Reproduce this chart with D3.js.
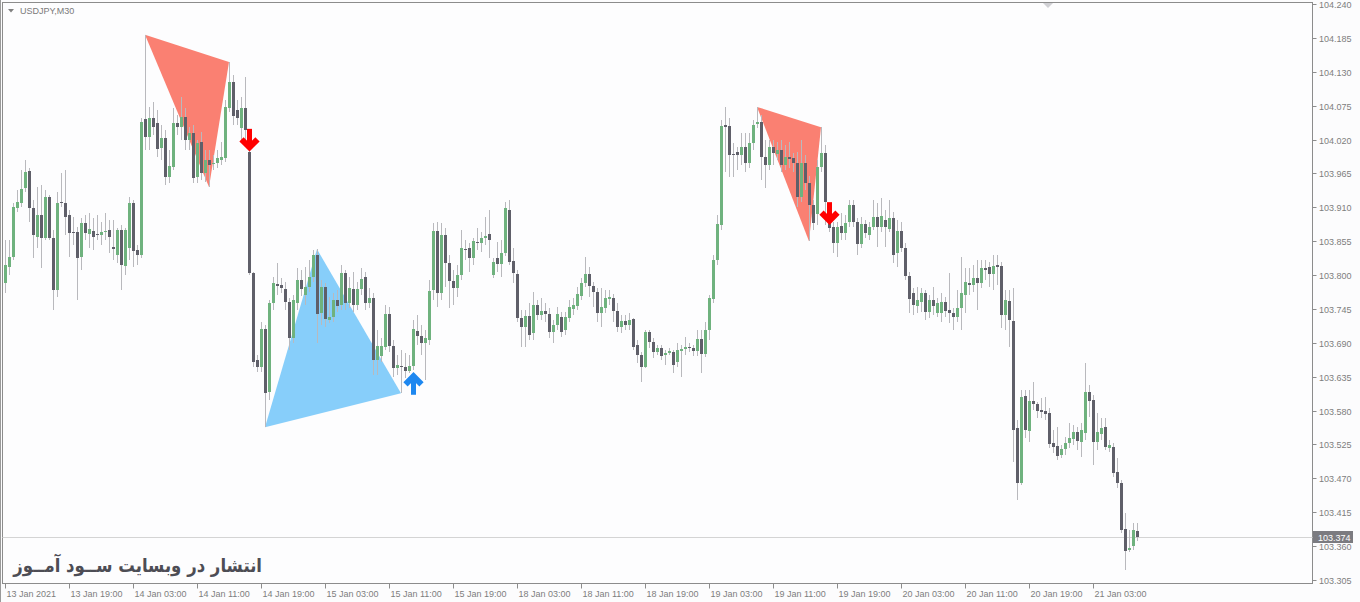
<!DOCTYPE html>
<html>
<head>
<meta charset="utf-8">
<script src="https://cdn.jsdelivr.net/npm/d3@7"></script>
<style>
  body { margin: 0; background: #fcfcfd; }
  svg text { font-family: "Liberation Sans", Arial, sans-serif; }
</style>
</head>
<body>
<div id="chart"></div>
<script>
// USDJPY M30 candles (one value per bar)
let opens = [
  103.787,103.813,103.829,103.909,103.917,103.941,103.969,103.909,103.862,103.898,
  103.860,103.927,103.860,103.776,103.919,103.917,103.898,103.870,103.870,103.828,
  103.884,103.867,103.871,103.867,103.865,103.870,103.873,103.846,103.833,103.873,
  103.815,103.844,103.917,103.841,103.833,104.053,104.024,104.055,104.047,104.006,
  104.023,103.959,103.975,104.047,104.040,104.057,104.019,104.031,103.958,104.016,
  103.966,103.987,103.980,103.982,103.987,103.990,104.071,104.113,104.068,104.039,
  104.071,104.000,103.803,103.662,103.651,103.712,103.610,103.755,103.785,103.784,
  103.777,103.756,103.698,103.755,103.792,103.768,103.781,103.797,103.833,103.738,
  103.781,103.727,103.732,103.760,103.751,103.803,103.755,103.777,103.751,103.777,
  103.797,103.755,103.763,103.662,103.669,103.683,103.737,103.685,103.649,103.652,
  103.651,103.644,103.652,103.709,103.701,103.690,103.695,103.776,103.871,103.771,
  103.865,103.820,103.790,103.779,103.800,103.842,103.844,103.828,103.854,103.852,
  103.860,103.867,103.800,103.828,103.818,103.836,103.906,103.823,103.802,103.730,
  103.716,103.734,103.706,103.751,103.735,103.742,103.737,103.708,103.719,103.732,
  103.711,103.730,103.745,103.750,103.766,103.787,103.802,103.782,103.772,103.738,
  103.746,103.761,103.763,103.742,103.716,103.725,103.719,103.729,103.687,103.670,
  103.651,103.708,103.691,103.675,103.682,103.669,103.673,103.675,103.659,103.677,
  103.680,103.683,103.682,103.677,103.696,103.672,103.711,103.761,103.824,103.881,
  104.044,104.042,103.997,104.000,103.995,104.008,103.982,104.014,104.045,104.049,
  103.992,103.979,104.008,103.997,104.003,103.979,103.992,103.990,103.982,103.927,
  103.982,103.949,103.914,103.898,103.975,103.998,103.889,103.878,103.852,103.880,
  103.868,103.886,103.914,103.886,103.850,103.883,103.865,103.878,103.894,103.878,
  103.889,103.875,103.893,103.836,103.871,103.844,103.798,103.771,103.751,103.756,
  103.771,103.740,103.760,103.738,103.738,103.756,103.743,103.738,103.732,103.746,
  103.768,103.787,103.784,103.795,103.787,103.811,103.813,103.802,103.816,103.815,
  103.735,103.758,103.725,103.552,103.462,103.604,103.547,103.596,103.591,103.581,
  103.579,103.576,103.527,103.522,103.508,103.518,103.527,103.534,103.545,103.529,
  103.543,103.610,103.597,103.529,103.543,103.553,103.519,103.521,103.480,103.462,
  103.388,103.354,103.360,103.384
];
let highs = [
  103.857,103.857,103.917,103.938,103.970,103.987,103.974,103.922,103.943,103.946,
  103.938,103.930,103.873,103.935,103.966,103.970,103.906,103.894,103.878,103.893,
  103.898,103.901,103.893,103.898,103.886,103.901,103.889,103.889,103.876,103.881,
  103.876,103.927,103.922,103.849,104.055,104.190,104.073,104.081,104.068,104.044,
  104.035,104.003,104.071,104.060,104.089,104.071,104.040,104.044,104.019,104.032,
  104.003,104.003,103.995,104.003,104.016,104.084,104.146,104.125,104.084,104.089,
  104.121,104.003,103.805,103.670,103.724,103.719,103.760,103.797,103.820,103.795,
  103.789,103.763,103.768,103.811,103.808,103.813,103.824,103.841,103.842,103.792,
  103.787,103.764,103.771,103.776,103.816,103.808,103.797,103.805,103.789,103.811,
  103.805,103.779,103.771,103.711,103.698,103.751,103.748,103.695,103.670,103.678,
  103.673,103.670,103.727,103.735,103.719,103.711,103.792,103.884,103.886,103.884,
  103.876,103.833,103.808,103.816,103.873,103.857,103.852,103.860,103.876,103.870,
  103.894,103.906,103.828,103.854,103.857,103.919,103.922,103.844,103.808,103.743,
  103.743,103.755,103.772,103.760,103.763,103.755,103.746,103.727,103.748,103.740,
  103.740,103.760,103.763,103.781,103.795,103.829,103.813,103.789,103.779,103.779,
  103.776,103.776,103.769,103.755,103.735,103.735,103.738,103.730,103.695,103.675,
  103.711,103.711,103.698,103.687,103.687,103.678,103.682,103.678,103.690,103.687,
  103.699,103.690,103.687,103.711,103.711,103.724,103.768,103.833,103.898,104.052,
  104.073,104.055,104.014,104.008,104.031,104.031,104.031,104.052,104.073,104.060,
  104.019,104.019,104.019,104.016,104.019,104.011,104.016,103.998,104.000,104.019,
  103.995,103.961,103.922,103.987,104.040,104.011,103.898,103.886,103.886,103.901,
  103.898,103.922,103.922,103.893,103.894,103.889,103.886,103.922,103.917,103.925,
  103.906,103.922,103.902,103.889,103.886,103.852,103.805,103.779,103.781,103.779,
  103.776,103.768,103.781,103.763,103.771,103.764,103.803,103.746,103.776,103.829,
  103.811,103.811,103.816,103.824,103.824,103.824,103.821,103.833,103.833,103.821,
  103.776,103.776,103.779,103.565,103.613,103.613,103.613,103.626,103.594,103.600,
  103.602,103.584,103.548,103.553,103.524,103.537,103.560,103.557,103.553,103.560,
  103.657,103.621,103.605,103.576,103.568,103.568,103.532,103.527,103.503,103.467,
  103.414,103.386,103.397,103.397
];
let lows = [
  103.771,103.800,103.824,103.902,103.910,103.935,103.886,103.828,103.844,103.811,
  103.857,103.857,103.743,103.764,103.910,103.865,103.829,103.849,103.760,103.808,
  103.857,103.844,103.841,103.857,103.849,103.857,103.836,103.824,103.820,103.776,
  103.800,103.824,103.813,103.816,103.828,104.003,104.003,104.027,103.992,103.987,
  103.946,103.949,103.970,104.027,104.019,104.003,104.003,103.949,103.949,103.954,
  103.951,103.943,103.970,103.974,103.979,103.984,104.065,104.044,104.044,104.019,
  104.019,103.800,103.651,103.643,103.643,103.553,103.597,103.743,103.768,103.771,
  103.743,103.678,103.690,103.743,103.766,103.751,103.772,103.789,103.690,103.719,
  103.716,103.722,103.724,103.740,103.743,103.743,103.746,103.740,103.743,103.768,
  103.743,103.746,103.638,103.638,103.659,103.678,103.675,103.635,103.638,103.608,
  103.633,103.641,103.646,103.687,103.670,103.630,103.687,103.760,103.748,103.760,
  103.781,103.746,103.751,103.764,103.792,103.824,103.805,103.816,103.841,103.838,
  103.849,103.828,103.795,103.805,103.797,103.831,103.816,103.787,103.724,103.683,
  103.683,103.695,103.695,103.727,103.727,103.724,103.698,103.690,103.711,103.699,
  103.703,103.724,103.735,103.743,103.760,103.781,103.764,103.748,103.724,103.716,
  103.738,103.751,103.724,103.708,103.706,103.711,103.711,103.678,103.657,103.626,
  103.649,103.682,103.665,103.670,103.662,103.654,103.670,103.641,103.651,103.635,
  103.670,103.675,103.669,103.669,103.641,103.667,103.695,103.755,103.816,103.873,
  103.967,103.959,103.959,103.970,103.979,103.967,103.974,104.003,104.039,103.954,
  103.941,103.970,103.979,103.987,103.967,103.970,103.974,103.967,103.910,103.919,
  103.938,103.855,103.873,103.881,103.967,103.881,103.870,103.836,103.829,103.857,
  103.857,103.878,103.878,103.833,103.844,103.860,103.857,103.873,103.846,103.870,
  103.846,103.870,103.820,103.813,103.838,103.792,103.738,103.735,103.738,103.740,
  103.727,103.730,103.735,103.732,103.724,103.732,103.722,103.711,103.724,103.711,
  103.738,103.768,103.772,103.743,103.779,103.792,103.781,103.776,103.784,103.714,
  103.711,103.683,103.497,103.435,103.459,103.536,103.529,103.581,103.568,103.568,
  103.565,103.519,103.511,103.500,103.503,103.508,103.519,103.524,103.516,103.505,
  103.532,103.569,103.492,103.516,103.532,103.516,103.513,103.472,103.454,103.381,
  103.321,103.351,103.354,103.368
];
let closes = [
  103.816,103.829,103.910,103.919,103.940,103.967,103.909,103.865,103.898,103.860,
  103.927,103.860,103.776,103.917,103.917,103.894,103.868,103.868,103.828,103.884,
  103.867,103.875,103.862,103.865,103.870,103.871,103.862,103.842,103.873,103.816,
  103.873,103.917,103.839,103.833,104.049,104.024,104.055,104.040,104.005,104.023,
  103.959,103.977,104.047,104.040,104.057,104.019,104.031,103.958,104.014,103.966,
  103.987,103.979,103.982,103.990,103.992,104.073,104.113,104.057,104.055,104.071,
  104.035,103.803,103.659,103.651,103.712,103.608,103.755,103.787,103.781,103.779,
  103.756,103.698,103.760,103.792,103.777,103.781,103.797,103.833,103.738,103.781,
  103.729,103.732,103.760,103.751,103.803,103.755,103.779,103.751,103.777,103.794,
  103.755,103.763,103.662,103.685,103.685,103.737,103.685,103.649,103.654,103.651,
  103.644,103.652,103.712,103.701,103.690,103.698,103.774,103.871,103.771,103.865,
  103.820,103.790,103.779,103.800,103.844,103.841,103.828,103.855,103.852,103.860,
  103.863,103.858,103.821,103.818,103.836,103.909,103.821,103.803,103.730,103.716,
  103.734,103.703,103.751,103.735,103.742,103.737,103.708,103.719,103.737,103.708,
  103.732,103.748,103.751,103.769,103.787,103.802,103.782,103.772,103.738,103.748,
  103.763,103.764,103.742,103.716,103.725,103.719,103.727,103.683,103.670,103.651,
  103.708,103.691,103.675,103.682,103.669,103.673,103.677,103.654,103.678,103.680,
  103.683,103.682,103.677,103.696,103.672,103.711,103.763,103.824,103.883,104.042,
  104.040,103.995,103.995,103.995,104.008,103.982,104.014,104.044,104.049,103.992,
  103.979,104.008,103.998,104.003,103.979,103.992,103.988,103.982,103.927,103.982,
  103.949,103.914,103.884,103.975,103.998,103.919,103.876,103.852,103.878,103.868,
  103.884,103.914,103.886,103.850,103.883,103.868,103.878,103.894,103.878,103.896,
  103.878,103.893,103.833,103.871,103.844,103.798,103.760,103.751,103.760,103.771,
  103.740,103.760,103.750,103.755,103.756,103.742,103.738,103.732,103.746,103.771,
  103.789,103.784,103.795,103.787,103.811,103.808,103.802,103.815,103.813,103.735,
  103.760,103.727,103.548,103.462,103.602,103.548,103.596,103.591,103.579,103.578,
  103.574,103.526,103.521,103.506,103.518,103.527,103.535,103.545,103.530,103.548,
  103.610,103.596,103.529,103.545,103.552,103.521,103.524,103.479,103.462,103.386,
  103.352,103.357,103.386,103.374
];

// price axis labels (right side)
let yTicks = [104.240, 104.185, 104.130, 104.075, 104.020, 103.965, 103.910, 103.855, 103.800,
  103.745, 103.690, 103.635, 103.580, 103.525, 103.470, 103.415, 103.360, 103.305];

// time axis: bar index of each label and its text
let xTickBars = [0, 16, 32, 48, 64, 80, 96, 112, 128, 144, 160, 176, 192, 208, 224, 240, 256, 272];
let xTickLabels = ["13 Jan 2021", "13 Jan 19:00", "14 Jan 03:00", "14 Jan 11:00", "14 Jan 19:00",
  "15 Jan 03:00", "15 Jan 11:00", "15 Jan 19:00", "18 Jan 03:00", "18 Jan 11:00", "18 Jan 19:00",
  "19 Jan 03:00", "19 Jan 11:00", "19 Jan 19:00", "20 Jan 03:00", "20 Jan 11:00", "20 Jan 19:00",
  "21 Jan 03:00"];

// harmonic triangles: bar index + price of each corner
let patternBars = [[35, 56, 51], [65, 78, 99], [188, 204, 201]];
let patternPrices = [[104.190, 104.146, 103.943], [103.553, 103.842, 103.608], [104.073, 104.040, 103.855]];
let patternColors = ["#fa8072", "#87cefa", "#fa8072"];

// signal arrows: bar index, price at the arrow tip, direction
let signalBars = [61, 102, 206];
let signalPrices = [104.000, 103.643, 103.881];
let signalDirs = ["down", "up", "down"];

let lastPrice = 103.374;

const width = 1360, height = 602;
let frame = {left: 2.5, top: 2.5, right: 1312.5, bottom: 583.5};

let svg = d3.select("#chart")
  .append("svg")
  .attr("width", width)
  .attr("height", height);

svg.append("rect").attr("width", width).attr("height", height).attr("fill", "#fcfcfd");

let x = d3.scaleLinear().domain([0, 283]).range([5, 1137]);
let y = d3.scaleLinear().domain([103.305, 104.240]).range([580, 4]);

let bars = opens.map(function(o, i) {
  return {i: i, o: o, h: highs[i], l: lows[i], c: closes[i]};
});

// outer window edge + chart frame
svg.append("line").attr("x1", 0.5).attr("x2", 0.5).attr("y1", 0).attr("y2", height)
  .attr("stroke", "#9a9a9a");
svg.append("rect")
  .attr("x", frame.left).attr("y", frame.top)
  .attr("width", frame.right - frame.left).attr("height", frame.bottom - frame.top)
  .attr("fill", "#fdfdfe").attr("stroke", "#8c8c8c");

// triangles sit behind the candles
let tri = svg.append("g");
patternBars.forEach(function(b, k) {
  let pts = b.map(function(bi, j) { return [x(bi), y(patternPrices[k][j])]; });
  tri.append("polygon")
    .attr("points", pts.map(function(p) { return p.join(","); }).join(" "))
    .attr("fill", patternColors[k]);
});

// current price line
svg.append("line")
  .attr("x1", frame.left).attr("x2", frame.right)
  .attr("y1", Math.round(y(lastPrice)) + 0.5).attr("y2", Math.round(y(lastPrice)) + 0.5)
  .attr("stroke", "#d4d4d4");

// candles
let candles = svg.append("g").attr("shape-rendering", "crispEdges");
candles.selectAll("line").data(bars).enter()
  .append("line")
  .attr("x1", function(d) { return x(d.i) + 0.5; })
  .attr("x2", function(d) { return x(d.i) + 0.5; })
  .attr("y1", function(d) { return Math.round(y(d.h)); })
  .attr("y2", function(d) { return Math.round(y(d.l)); })
  .attr("stroke", "#b9b9bd");

candles.selectAll("rect").data(bars).enter()
  .append("rect")
  .attr("x", function(d) { return x(d.i) - 1; })
  .attr("y", function(d) { return Math.round(y(Math.max(d.o, d.c))); })
  .attr("width", 3)
  .attr("height", function(d) { return Math.max(1, Math.round(Math.abs(y(d.o) - y(d.c)))); })
  .attr("fill", function(d) { return d.c >= d.o ? "#6fb27e" : "#5f5f69"; });

// arrows (thick shaft + chevron head)
let arrows = svg.append("g");
signalBars.forEach(function(b, k) {
  let s = signalDirs[k] === "down" ? 1 : -1;
  let g = arrows.append("g")
    .attr("transform", `translate(${x(b) + 0.5}, ${y(signalPrices[k])}) scale(1, ${s})`);
  let col = signalDirs[k] === "down" ? "#ff0000" : "#1e88f0";
  g.append("line").attr("x1", 0).attr("x2", 0).attr("y1", -23).attr("y2", -5)
    .attr("stroke", col).attr("stroke-width", 5);
  g.append("polyline").attr("points", "-8,-12.5 0,-4.5 8,-12.5")
    .attr("fill", "none").attr("stroke", col).attr("stroke-width", 6)
    .attr("stroke-linejoin", "miter");
});

// right price axis
let yAxis = svg.append("g");
yTicks.forEach(function(t) {
  let yy = Math.round(y(t)) + 0.5;
  yAxis.append("line").attr("x1", frame.right).attr("x2", frame.right + 4)
    .attr("y1", yy).attr("y2", yy).attr("stroke", "#8c8c8c");
  yAxis.append("text")
    .attr("x", 1319).attr("y", yy + 3.5)
    .attr("font-size", 9).attr("fill", "#7e7e7e")
    .text(t.toFixed(3));
});

// last price box
svg.append("rect").attr("x", 1313).attr("y", Math.round(y(lastPrice)) - 6)
  .attr("width", 40).attr("height", 12).attr("fill", "#7b7b80");
svg.append("text").attr("x", 1318).attr("y", Math.round(y(lastPrice)) + 3.5)
  .attr("font-size", 9).attr("fill", "#ffffff").text(lastPrice.toFixed(3));

// bottom time axis
let xAxis = svg.append("g");
xTickBars.forEach(function(b, k) {
  let xx = x(b) + 0.5;
  xAxis.append("line").attr("x1", xx).attr("x2", xx)
    .attr("y1", frame.bottom).attr("y2", frame.bottom + 5).attr("stroke", "#8c8c8c");
  xAxis.append("text")
    .attr("x", xx + 1).attr("y", 597)
    .attr("font-size", 9).attr("fill", "#7e7e7e")
    .text(xTickLabels[k]);
});

// symbol caption
svg.append("path").attr("d", "M8,9 L14,9 L11,12.5 Z").attr("fill", "#808080");
svg.append("text").attr("x", 20).attr("y", 14)
  .attr("font-size", 9).attr("fill", "#7a7a7a").text("USDJPY,M30");

// chart shift marker at the top
svg.append("path").attr("d", "M1043,3 L1053,3 L1048,8 Z").attr("fill", "#d0d0d4");

// watermark (right edge at x=262, squeezed a bit to the reference width)
svg.append("text")
  .attr("transform", "translate(262, 572) scale(0.87, 1)")
  .attr("text-anchor", "start")
  .attr("direction", "rtl")
  .style("font-family", "'DejaVu Sans', sans-serif")
  .style("font-weight", "bold")
  .attr("font-size", 19)
  .attr("fill", "#4d4d55")
  .text("انتشار در وبسایت ســود آمــوز");
</script>
</body>
</html>
